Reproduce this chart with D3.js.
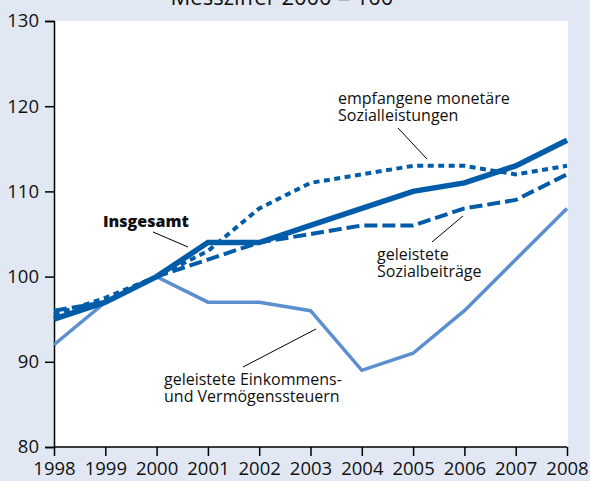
<!DOCTYPE html>
<html>
<head>
<meta charset="utf-8">
<script src="https://cdn.jsdelivr.net/npm/d3@7"></script>
<style>
  html, body { margin: 0; padding: 0; background: #e1e8f3; }
  svg { display: block; }
  text { font-family: "Open Sans", "Noto Sans", sans-serif; fill: #111; }
</style>
</head>
<body>
<svg id="chart" width="590" height="481"></svg>
<script>
// Years on the horizontal axis
const years = [1998, 1999, 2000, 2001, 2002, 2003, 2004, 2005, 2006, 2007, 2008];
// Index values, 2000 = 100
const insgesamt       = [95, 97, 100, 104, 104, 106, 108, 110, 111, 113, 116];
const sozialleistung  = [95.5, 97.5, 100, 103, 108, 111, 112, 113, 113, 112, 113];
const sozialbeitraege = [96, 97, 100, 102, 104, 105, 106, 106, 108, 109, 112];
const steuern         = [92, 97, 100, 97, 97, 96, 89, 91, 96, 102, 108];
const yTicks = [80, 90, 100, 110, 120, 130];

const svg = d3.select("#chart");
const x = d3.scaleLinear().domain([1998, 2008]).range([54, 567]);
const y = d3.scaleLinear().domain([80, 130]).range([447, 21]);

const dark = "#005ca9", light = "#5b8fd0";

// white plotting area
svg.append("rect")
  .attr("x", x(1998)).attr("y", y(130))
  .attr("width", 568 - x(1998)).attr("height", y(80) - y(130))
  .attr("fill", "#fff");

// title (partly above the visible frame)
svg.append("text")
  .attr("x", 282).attr("y", 5)
  .attr("text-anchor", "middle")
  .style("font-size", "22px")
  .text("Messziffer 2000 = 100");

// axes
const yAxis = svg.append("g")
  .attr("transform", `translate(${x(1998)},0)`)
  .call(d3.axisLeft(y).tickValues(yTicks).tickSize(9).tickPadding(6).tickFormat(d3.format("d")));
const xAxis = svg.append("g")
  .attr("transform", `translate(0,${y(80)})`)
  .call(d3.axisBottom(x).tickValues(years).tickSize(9).tickPadding(6).tickFormat(d3.format("d")));
[yAxis, xAxis].forEach(g => {
  g.select(".domain").attr("stroke", "#000").attr("stroke-width", 1.5);
  g.selectAll(".tick line").attr("stroke", "#000").attr("stroke-width", 1.5);
  g.selectAll(".tick text").style("font-size", "18.5px").attr("fill", "#111");
});
xAxis.select(".domain").attr("d", `M${x(1998)},0H${x(2008)}`);

// series lines
const line = d3.line().x((d, i) => x(years[i])).y(d => y(d));
const series = [
  { values: steuern,         color: light, width: 3.5, dash: null },
  { values: sozialbeitraege, color: dark,  width: 4,   dash: "13,5" },
  { values: sozialleistung,  color: dark,  width: 4,   dash: "6,4.5" },
  { values: insgesamt,       color: dark,  width: 5.5, dash: null }
];
svg.append("g").selectAll("path").data(series).join("path")
  .attr("d", d => line(d.values))
  .attr("fill", "none")
  .attr("stroke", d => d.color)
  .attr("stroke-width", d => d.width)
  .attr("stroke-dasharray", d => d.dash)
  .attr("stroke-linejoin", "miter");

// labels with leader lines
const notes = [
  { lines: ["empfangene monetäre", "Sozialleistungen"], x: 338, y: 104, lead: [398, 128, 427, 159], bold: false },
  { lines: ["geleistete", "Sozialbeiträge"], x: 377, y: 260, lead: [432, 242, 463, 216], bold: false },
  { lines: ["Insgesamt"], x: 103, y: 227, lead: [153, 232, 188, 247], bold: true },
  { lines: ["geleistete Einkommens-", "und Vermögenssteuern"], x: 164, y: 385, lead: [243, 367, 316, 329], bold: false }
];
notes.forEach(n => {
  svg.append("line")
    .attr("x1", n.lead[0]).attr("y1", n.lead[1])
    .attr("x2", n.lead[2]).attr("y2", n.lead[3])
    .attr("stroke", "#000").attr("stroke-width", 1);
  const t = svg.append("text")
    .attr("x", n.x).attr("y", n.y)
    .style("font-size", "16px")
    .style("font-weight", n.bold ? "800" : "normal");
  n.lines.forEach((s, i) => {
    t.append("tspan").attr("x", n.x).attr("dy", i === 0 ? 0 : 17).text(s);
  });
});
</script>
</body>
</html>
